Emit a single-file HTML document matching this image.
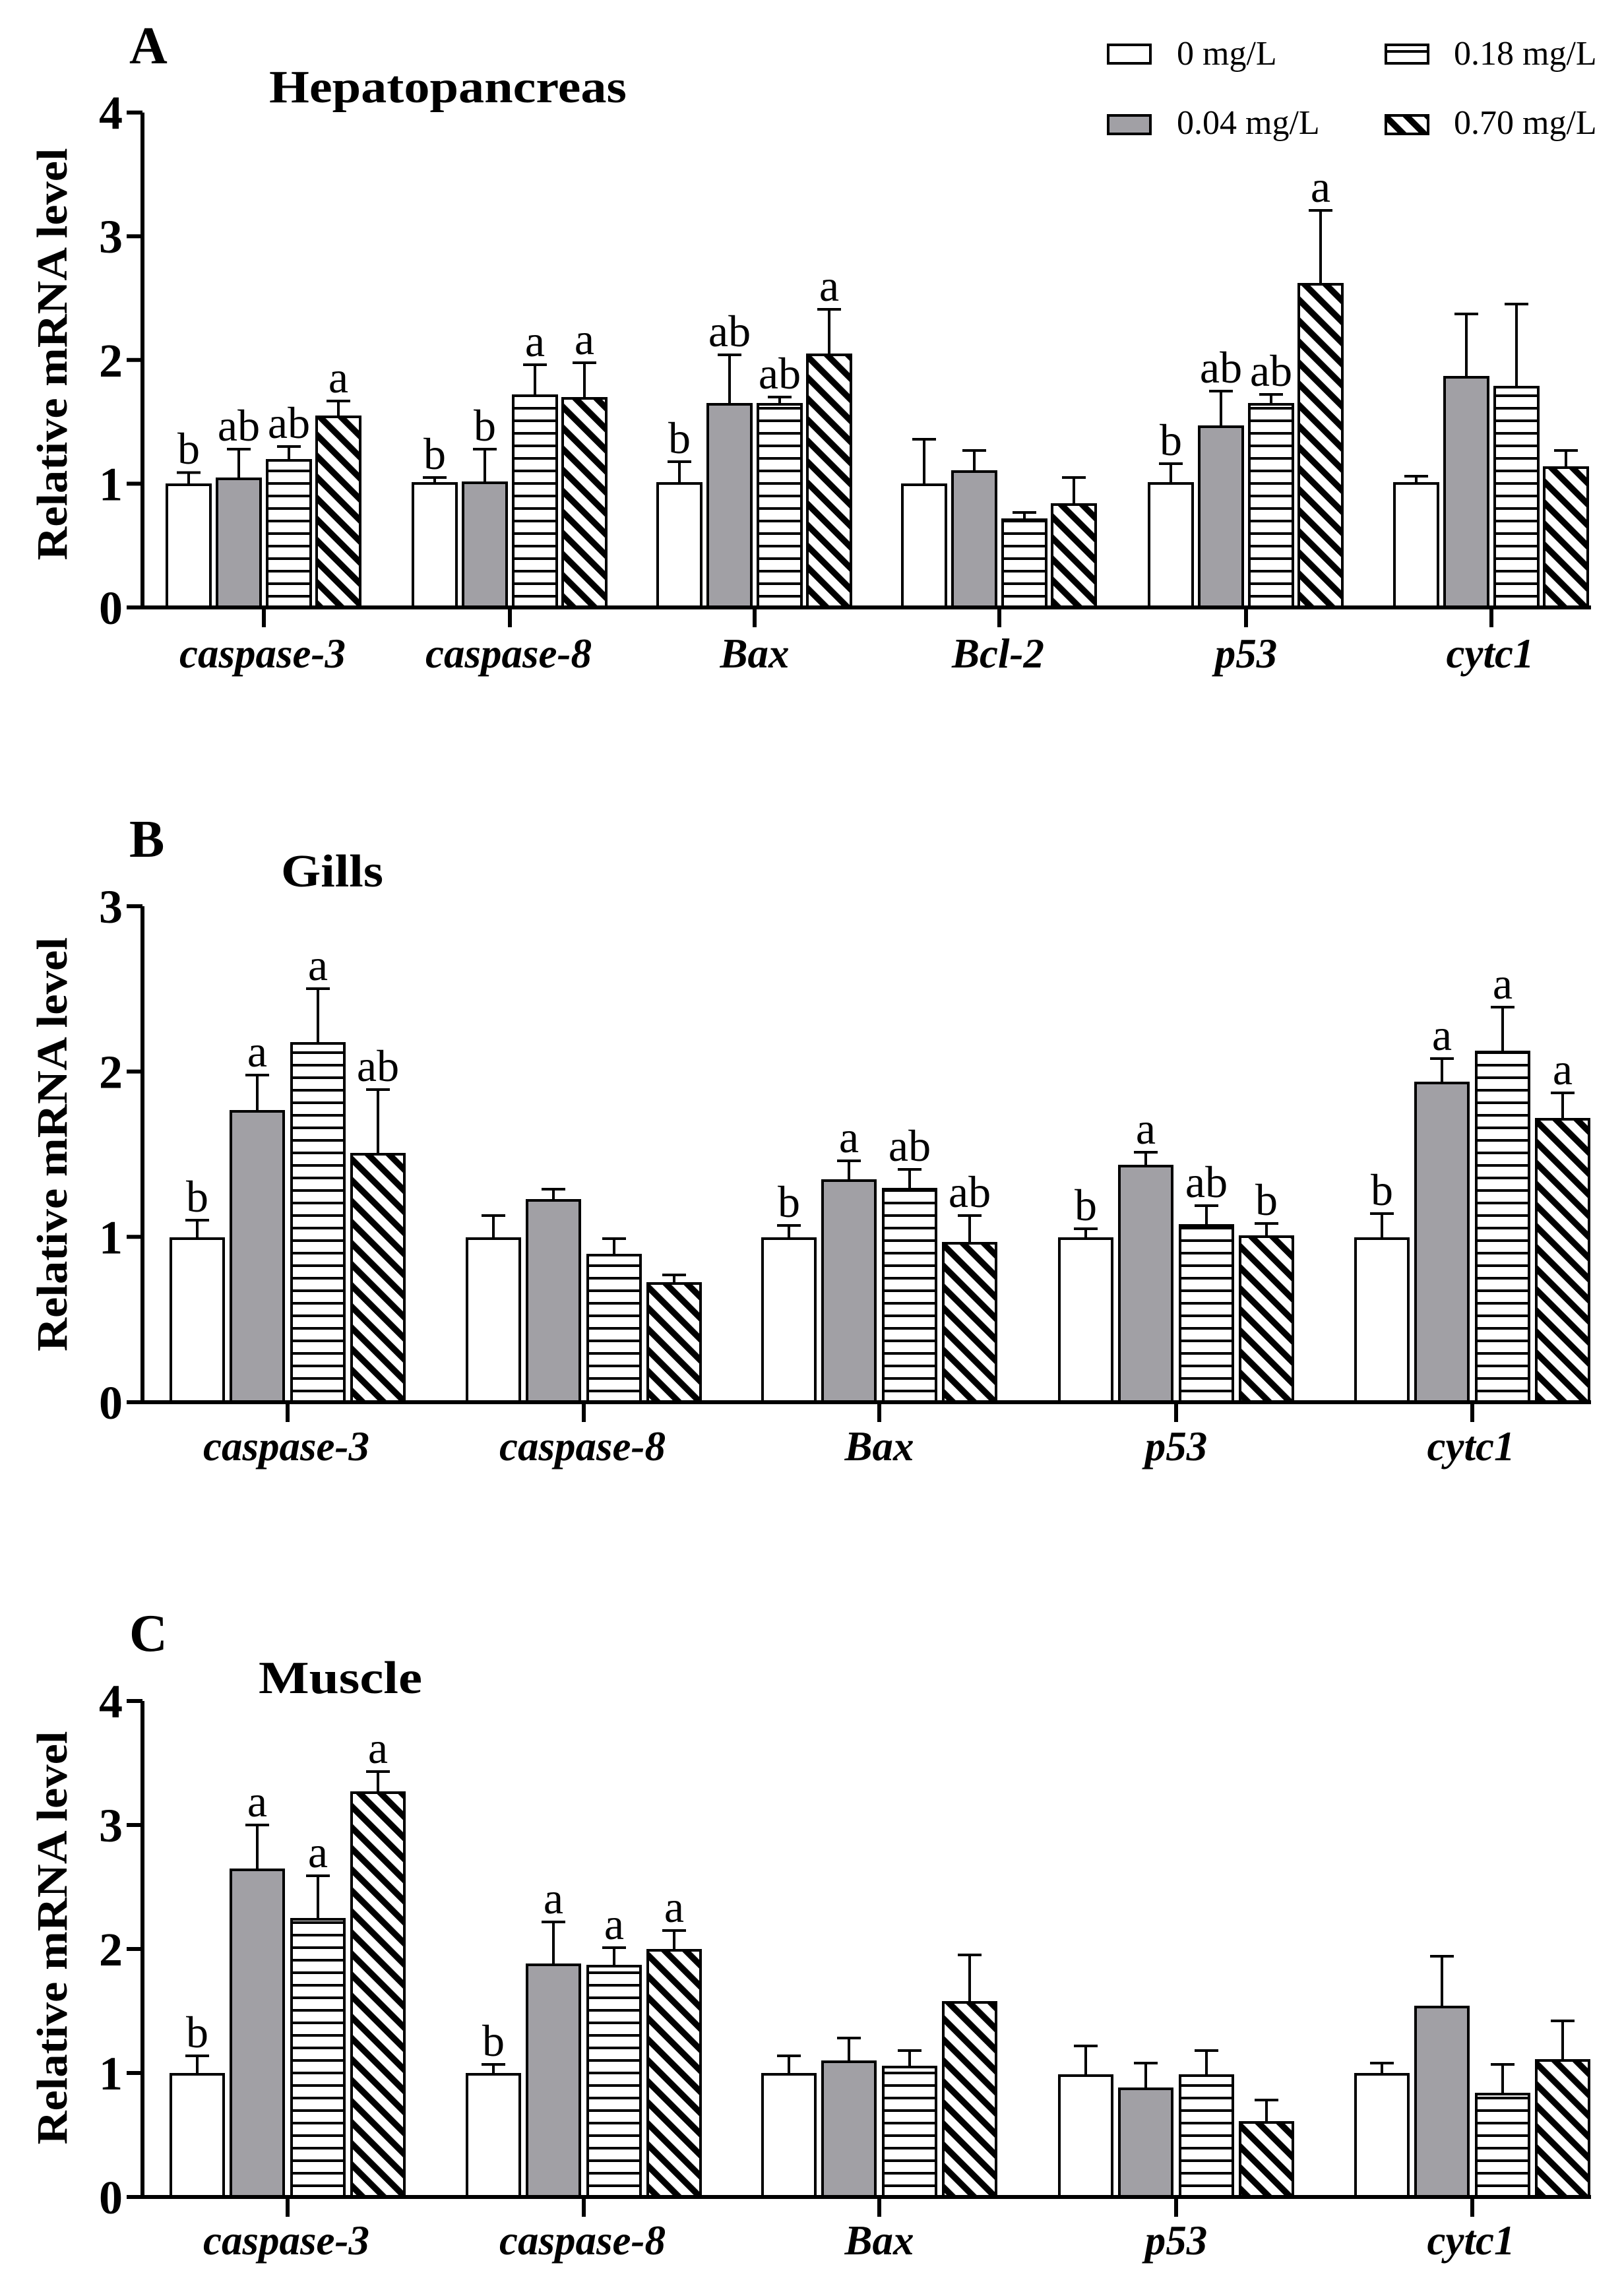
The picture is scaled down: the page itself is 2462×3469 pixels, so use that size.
<!DOCTYPE html>
<html><head><meta charset="utf-8"><style>html,body{margin:0;padding:0;background:#fff}svg{display:block}</style></head>
<body>
<svg width="2462" height="3469" viewBox="0 0 2462 3469" xmlns="http://www.w3.org/2000/svg" font-family="'Liberation Serif', serif">
<defs>
<pattern id="hz" patternUnits="userSpaceOnUse" width="10" height="19"><rect width="10" height="19" fill="#fff"/><rect y="0" width="10" height="4" fill="#000"/></pattern>
<pattern id="dg" patternUnits="userSpaceOnUse" width="22.6" height="22.6" patternTransform="rotate(-45)"><rect width="22.6" height="22.6" fill="#fff"/><rect x="0" width="9.5" height="22.6" fill="#000"/></pattern>
<style>
.w{fill:#fff;stroke:#000;stroke-width:4}
.g{fill:#a1a0a5;stroke:#000;stroke-width:4}
.h{fill:url(#hz);stroke:#000;stroke-width:4}
.d{fill:url(#dg);stroke:#000;stroke-width:4}
.e{stroke:#000;stroke-width:4;fill:none}
.ax{stroke:#000;stroke-width:6;fill:none}
.lt{font-size:68px;text-anchor:middle}
.tk{font-size:72px;font-weight:bold;text-anchor:end}
.xl{font-size:63px;font-weight:bold;font-style:italic;text-anchor:middle}
.yl{font-size:66px;font-weight:bold;text-anchor:middle}
.ttl{font-size:70px;font-weight:bold}
.pl{font-size:80px;font-weight:bold}
.lg{font-size:52px}
</style>
</defs>

<!-- ===== Panel A ===== -->
<text class="pl" x="196" y="96">A</text>
<text class="ttl" x="408" y="155" textLength="542" lengthAdjust="spacingAndGlyphs">Hepatopancreas</text>
<rect class="w" x="1680" y="68" width="64" height="28"/>
<text class="lg" x="1784" y="98">0 mg/L</text>
<rect class="h" x="2101" y="68" width="64" height="28"/>
<text class="lg" x="2204" y="98">0.18 mg/L</text>
<rect class="g" x="1680" y="175" width="64" height="28"/>
<text class="lg" x="1784" y="203">0.04 mg/L</text>
<rect class="d" x="2101" y="175" width="64" height="28"/>
<text class="lg" x="2204" y="203">0.70 mg/L</text>

<text class="yl" transform="translate(101,537) rotate(-90)" textLength="625" lengthAdjust="spacingAndGlyphs">Relative mRNA level</text>
<g transform="translate(0,921)">
<text class="tk" x="186" y="25">0</text>
<text class="tk" x="186" y="-162.6">1</text>
<text class="tk" x="186" y="-350.2">2</text>
<text class="tk" x="186" y="-537.8">3</text>
<text class="tk" x="186" y="-725.4">4</text>
<g>
<rect class="w" x="253" y="-186" width="66" height="186"/><path class="e" d="M286-186V-204.5M268-204.5H304"/><text class="lt" x="286" y="-218">b</text>
<rect class="g" x="329" y="-195" width="66" height="195"/><path class="e" d="M362-195V-240M344-240H380"/><text class="lt" x="362" y="-253">ab</text>
<rect class="h" x="405" y="-223" width="66" height="223"/><path class="e" d="M438-223V-244M420-244H456"/><text class="lt" x="438" y="-257">ab</text>
<rect class="d" x="480" y="-289" width="66" height="289"/><path class="e" d="M513-289V-313M495-313H531"/><text class="lt" x="513" y="-326">a</text>

<rect class="w" x="626" y="-188" width="66" height="188"/><path class="e" d="M659-188V-197M641-197H677"/><text class="lt" x="659" y="-210">b</text>
<rect class="g" x="702" y="-189" width="66" height="189"/><path class="e" d="M735-189V-240M717-240H753"/><text class="lt" x="735" y="-253">b</text>
<rect class="h" x="778" y="-321" width="66" height="321"/><path class="e" d="M811-321V-368M793-368H829"/><text class="lt" x="811" y="-381">a</text>
<rect class="d" x="853" y="-317" width="66" height="317"/><path class="e" d="M886-317V-371M868-371H904"/><text class="lt" x="886" y="-384">a</text>

<rect class="w" x="997" y="-188" width="66" height="188"/><path class="e" d="M1030-188V-221M1012-221H1048"/><text class="lt" x="1030" y="-234">b</text>
<rect class="g" x="1073" y="-308" width="66" height="308"/><path class="e" d="M1106-308V-383M1088-383H1124"/><text class="lt" x="1106" y="-396">ab</text>
<rect class="h" x="1149" y="-308" width="66" height="308"/><path class="e" d="M1182-308V-319M1164-319H1200"/><text class="lt" x="1182" y="-332">ab</text>
<rect class="d" x="1224" y="-383" width="66" height="383"/><path class="e" d="M1257-383V-452M1239-452H1275"/><text class="lt" x="1257" y="-465">a</text>

<rect class="w" x="1368" y="-186" width="66" height="186"/><path class="e" d="M1401-186V-255M1383-255H1419"/>
<rect class="g" x="1444" y="-206" width="66" height="206"/><path class="e" d="M1477-206V-238M1459-238H1495"/>
<rect class="h" x="1520" y="-133" width="66" height="133"/><path class="e" d="M1553-133V-144M1535-144H1571"/>
<rect class="d" x="1595" y="-156" width="66" height="156"/><path class="e" d="M1628-156V-197M1610-197H1646"/>

<rect class="w" x="1742" y="-188" width="66" height="188"/><path class="e" d="M1775-188V-218M1757-218H1793"/><text class="lt" x="1775" y="-231">b</text>
<rect class="g" x="1818" y="-274" width="66" height="274"/><path class="e" d="M1851-274V-328M1833-328H1869"/><text class="lt" x="1851" y="-341">ab</text>
<rect class="h" x="1894" y="-308" width="66" height="308"/><path class="e" d="M1927-308V-323M1909-323H1945"/><text class="lt" x="1927" y="-336">ab</text>
<rect class="d" x="1969" y="-490" width="66" height="490"/><path class="e" d="M2002-490V-602M1984-602H2020"/><text class="lt" x="2002" y="-615">a</text>

<rect class="w" x="2114" y="-188" width="66" height="188"/><path class="e" d="M2147-188V-199M2129-199H2165"/>
<rect class="g" x="2190" y="-349" width="66" height="349"/><path class="e" d="M2223-349V-445M2205-445H2241"/>
<rect class="h" x="2266" y="-334" width="66" height="334"/><path class="e" d="M2299-334V-460M2281-460H2317"/>
<rect class="d" x="2341" y="-212" width="66" height="212"/><path class="e" d="M2374-212V-238M2356-238H2392"/>
</g>
<path class="ax" d="M216-750.4V3M192-750.4H216M192-562.8H216M192-375.2H216M192-187.6H216M192 0H2412"/>
<path class="ax" d="M400 0V30M773 0V30M1144 0V30M1515 0V30M1889 0V30M2261 0V30"/>
<text class="xl" x="398" y="91">caspase-3</text>
<text class="xl" x="771" y="91">caspase-8</text>
<text class="xl" x="1144" y="91">Bax</text>
<text class="xl" x="1513" y="91">Bcl-2</text>
<text class="xl" x="1889" y="91">p53</text>
<text class="xl" x="2259" y="91">cytc1</text>
</g>

<!-- ===== Panel B ===== -->
<text class="pl" x="196" y="1299">B</text>
<text class="ttl" x="426" y="1344" textLength="155" lengthAdjust="spacingAndGlyphs">Gills</text>
<text class="yl" transform="translate(101,1735) rotate(-90)" textLength="628" lengthAdjust="spacingAndGlyphs">Relative mRNA level</text>
<g transform="translate(0,2126)">
<text class="tk" x="186" y="25">0</text>
<text class="tk" x="186" y="-225.7">1</text>
<text class="tk" x="186" y="-476.4">2</text>
<text class="tk" x="186" y="-727.1">3</text>

<rect class="w" x="259" y="-248" width="80" height="248"/><path class="e" d="M299-248V-276M281-276H317"/><text class="lt" x="299" y="-289">b</text>
<rect class="g" x="350" y="-441" width="80" height="441"/><path class="e" d="M390-441V-496M372-496H408"/><text class="lt" x="390" y="-509">a</text>
<rect class="h" x="442" y="-544" width="80" height="544"/><path class="e" d="M482-544V-627M464-627H500"/><text class="lt" x="482" y="-640">a</text>
<rect class="d" x="533" y="-376" width="80" height="376"/><path class="e" d="M573-376V-474M555-474H591"/><text class="lt" x="573" y="-487">ab</text>

<rect class="w" x="708" y="-248" width="80" height="248"/><path class="e" d="M748-248V-283M730-283H766"/>
<rect class="g" x="799" y="-306" width="80" height="306"/><path class="e" d="M839-306V-323M821-323H857"/>
<rect class="h" x="891" y="-223" width="80" height="223"/><path class="e" d="M931-223V-248M913-248H949"/>
<rect class="d" x="982" y="-180" width="80" height="180"/><path class="e" d="M1022-180V-193M1004-193H1040"/>

<rect class="w" x="1156" y="-248" width="80" height="248"/><path class="e" d="M1196-248V-268M1178-268H1214"/><text class="lt" x="1196" y="-281">b</text>
<rect class="g" x="1247" y="-336" width="80" height="336"/><path class="e" d="M1287-336V-366M1269-366H1305"/><text class="lt" x="1287" y="-379">a</text>
<rect class="h" x="1339" y="-323" width="80" height="323"/><path class="e" d="M1379-323V-353M1361-353H1397"/><text class="lt" x="1379" y="-366">ab</text>
<rect class="d" x="1430" y="-241" width="80" height="241"/><path class="e" d="M1470-241V-283M1452-283H1488"/><text class="lt" x="1470" y="-296">ab</text>

<rect class="w" x="1606" y="-248" width="80" height="248"/><path class="e" d="M1646-248V-263M1628-263H1664"/><text class="lt" x="1646" y="-276">b</text>
<rect class="g" x="1697" y="-358" width="80" height="358"/><path class="e" d="M1737-358V-379M1719-379H1755"/><text class="lt" x="1737" y="-392">a</text>
<rect class="h" x="1789" y="-268" width="80" height="268"/><path class="e" d="M1829-268V-298M1811-298H1847"/><text class="lt" x="1829" y="-311">ab</text>
<rect class="d" x="1880" y="-251" width="80" height="251"/><path class="e" d="M1920-251V-271M1902-271H1938"/><text class="lt" x="1920" y="-284">b</text>

<rect class="w" x="2055" y="-248" width="80" height="248"/><path class="e" d="M2095-248V-286M2077-286H2113"/><text class="lt" x="2095" y="-299">b</text>
<rect class="g" x="2146" y="-484" width="80" height="484"/><path class="e" d="M2186-484V-521M2168-521H2204"/><text class="lt" x="2186" y="-534">a</text>
<rect class="h" x="2238" y="-531" width="80" height="531"/><path class="e" d="M2278-531V-599M2260-599H2296"/><text class="lt" x="2278" y="-612">a</text>
<rect class="d" x="2329" y="-429" width="80" height="429"/><path class="e" d="M2369-429V-469M2351-469H2387"/><text class="lt" x="2369" y="-482">a</text>

<path class="ax" d="M216-752V3M192-752H216M192-501.4H216M192-250.7H216M192 0H2412"/>
<path class="ax" d="M436 0V30M885 0V30M1333 0V30M1783 0V30M2232 0V30"/>
<text class="xl" x="434" y="88">caspase-3</text>
<text class="xl" x="883" y="88">caspase-8</text>
<text class="xl" x="1333" y="88">Bax</text>
<text class="xl" x="1783" y="88">p53</text>
<text class="xl" x="2230" y="88">cytc1</text>
</g>

<!-- ===== Panel C ===== -->
<text class="pl" x="196" y="2503">C</text>
<text class="ttl" x="392" y="2567" textLength="248" lengthAdjust="spacingAndGlyphs">Muscle</text>
<text class="yl" transform="translate(101,2938) rotate(-90)" textLength="627" lengthAdjust="spacingAndGlyphs">Relative mRNA level</text>
<g transform="translate(0,3331)">
<text class="tk" x="186" y="25">0</text>
<text class="tk" x="186" y="-163">1</text>
<text class="tk" x="186" y="-351">2</text>
<text class="tk" x="186" y="-539">3</text>
<text class="tk" x="186" y="-727">4</text>

<rect class="w" x="259" y="-186" width="80" height="186"/><path class="e" d="M299-186V-214M281-214H317"/><text class="lt" x="299" y="-227">b</text>
<rect class="g" x="350" y="-496" width="80" height="496"/><path class="e" d="M390-496V-564M372-564H408"/><text class="lt" x="390" y="-577">a</text>
<rect class="h" x="442" y="-421" width="80" height="421"/><path class="e" d="M482-421V-487M464-487H500"/><text class="lt" x="482" y="-500">a</text>
<rect class="d" x="533" y="-613" width="80" height="613"/><path class="e" d="M573-613V-645M555-645H591"/><text class="lt" x="573" y="-658">a</text>

<rect class="w" x="708" y="-186" width="80" height="186"/><path class="e" d="M748-186V-201M730-201H766"/><text class="lt" x="748" y="-214">b</text>
<rect class="g" x="799" y="-352" width="80" height="352"/><path class="e" d="M839-352V-417M821-417H857"/><text class="lt" x="839" y="-430">a</text>
<rect class="h" x="891" y="-350" width="80" height="350"/><path class="e" d="M931-350V-378M913-378H949"/><text class="lt" x="931" y="-391">a</text>
<rect class="d" x="982" y="-374" width="80" height="374"/><path class="e" d="M1022-374V-404M1004-404H1040"/><text class="lt" x="1022" y="-417">a</text>

<rect class="w" x="1156" y="-186" width="80" height="186"/><path class="e" d="M1196-186V-214M1178-214H1214"/>
<rect class="g" x="1247" y="-205" width="80" height="205"/><path class="e" d="M1287-205V-241M1269-241H1305"/>
<rect class="h" x="1339" y="-197" width="80" height="197"/><path class="e" d="M1379-197V-222M1361-222H1397"/>
<rect class="d" x="1430" y="-295" width="80" height="295"/><path class="e" d="M1470-295V-367M1452-367H1488"/>

<rect class="w" x="1606" y="-184" width="80" height="184"/><path class="e" d="M1646-184V-229M1628-229H1664"/>
<rect class="g" x="1697" y="-164" width="80" height="164"/><path class="e" d="M1737-164V-203M1719-203H1755"/>
<rect class="h" x="1789" y="-184" width="80" height="184"/><path class="e" d="M1829-184V-222M1811-222H1847"/>
<rect class="d" x="1880" y="-113" width="80" height="113"/><path class="e" d="M1920-113V-147M1902-147H1938"/>

<rect class="w" x="2055" y="-186" width="80" height="186"/><path class="e" d="M2095-186V-203M2077-203H2113"/>
<rect class="g" x="2146" y="-288" width="80" height="288"/><path class="e" d="M2186-288V-365M2168-365H2204"/>
<rect class="h" x="2238" y="-156" width="80" height="156"/><path class="e" d="M2278-156V-201M2260-201H2296"/>
<rect class="d" x="2329" y="-207" width="80" height="207"/><path class="e" d="M2369-207V-267M2351-267H2387"/>

<path class="ax" d="M216-752V3M192-752H216M192-564H216M192-376H216M192-188H216M192 0H2412"/>
<path class="ax" d="M436 0V30M885 0V30M1333 0V30M1783 0V30M2232 0V30"/>
<text class="xl" x="434" y="87">caspase-3</text>
<text class="xl" x="883" y="87">caspase-8</text>
<text class="xl" x="1333" y="87">Bax</text>
<text class="xl" x="1783" y="87">p53</text>
<text class="xl" x="2230" y="87">cytc1</text>
</g>
</svg>
</body></html>
